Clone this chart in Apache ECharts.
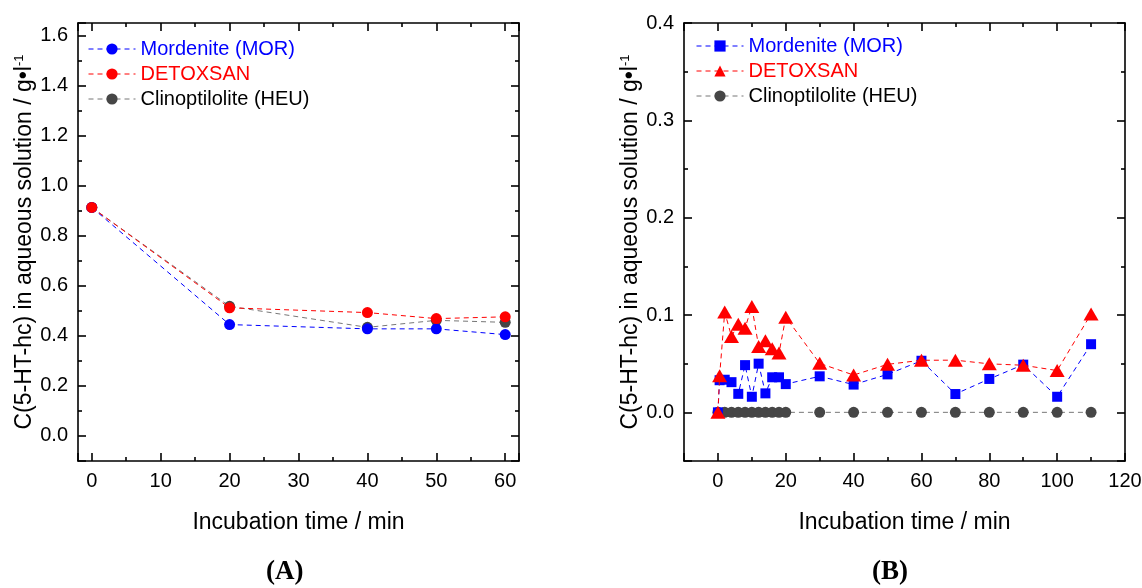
<!DOCTYPE html>
<html>
<head>
<meta charset="utf-8">
<script src="https://cdn.jsdelivr.net/npm/echarts@6.0.0/dist/echarts.min.js"></script>
<style>
html, body { margin: 0; padding: 0; background: #fff; }
#main { width: 1142px; height: 588px; }
</style>
</head>
<body>
<div id="main"></div>
<script>
// (A) 0-60 min
var timeA = [0, 20, 40, 50, 60];
var morA = [0.913, 0.445, 0.428, 0.428, 0.405];
var detoxA = [0.913, 0.512, 0.493, 0.469, 0.476];
var heuA = [0.913, 0.518, 0.434, 0.462, 0.454];

// (B) 0-110 min
var timeB = [0, 0.5, 2, 4, 6, 8, 10, 12, 14, 16, 18, 20, 30, 40, 50, 60, 70, 80, 90, 100, 110];
var morB = [0, 0.033, 0.0335, 0.031, 0.019, 0.0485, 0.016, 0.050, 0.0195, 0.036, 0.036, 0.029,
            0.037, 0.0285, 0.039, 0.053, 0.0188, 0.0343, 0.049, 0.016, 0.070];
var detoxB = [0, 0.0376, 0.103, 0.078, 0.0906, 0.0865, 0.1087, 0.0677, 0.0735, 0.0653, 0.0609, 0.0978,
              0.0503, 0.0383, 0.0493, 0.0535, 0.0536, 0.0498, 0.0484, 0.0429, 0.1011];
var timeHeuB = [0, 2, 4, 6, 8, 10, 12, 14, 16, 18, 20, 30, 40, 50, 60, 70, 80, 90, 100, 110];
var heuB = [0, 0, 0, 0, 0, 0, 0, 0, 0, 0, 0, 0, 0, 0, 0, 0, 0, 0, 0, 0];

var namesA = ['Mordenite (MOR)', 'DETOXSAN', 'Clinoptilolite (HEU)'];
// trailing space keeps the two legends apart
var namesB = ['Mordenite (MOR) ', 'DETOXSAN ', 'Clinoptilolite (HEU) '];

var FONT = '"Liberation Sans", Arial, sans-serif';
var BLUE = '#0000ff', RED = '#ff0000', GREY = '#464646', GREY_LINE = '#777777';
var yTitle = 'C(5-HT-hc) in aqueous solution / g\u2022l{sup|-1}';

function pairs(xs, ys) {
    var out = [];
    for (var i = 0; i < xs.length; i++) {
        out.push([xs[i], ys[i]]);
    }
    return out;
}

function frameAxis(grid, pos, min, max, split, showMin, showMax, fmt, name, nameGap) {
    var main = (pos == 'bottom' || pos == 'left');
    var black = { color: '#000', width: 1.6 };
    return {
        type: 'value', gridIndex: grid, position: pos,
        min: min, max: max, splitNumber: split,
        axisLine: { show: true, onZero: false, lineStyle: black },
        axisTick: { show: true, inside: true, length: 8, lineStyle: black },
        minorTick: { show: true, splitNumber: 2, length: 4, lineStyle: black },
        splitLine: { show: false },
        minorSplitLine: { show: false },
        axisLabel: {
            show: main, showMinLabel: showMin, showMaxLabel: showMax,
            margin: 10, color: '#000', fontSize: 20, fontFamily: FONT, formatter: fmt
        },
        name: main ? name : '',
        nameLocation: 'middle',
        nameGap: nameGap,
        nameTextStyle: {
            color: '#000', fontSize: 23, fontFamily: FONT,
            rich: { sup: { fontSize: 13, fontFamily: FONT, color: '#000', verticalAlign: 'top' } }
        }
    };
}

function oneDec(v) { return v.toFixed(1); }
function intLabel(v) { return String(v); }

function lineSeries(name, idx, data, symbol, size, color, lineColor, z) {
    return {
        type: 'line', name: name, xAxisIndex: idx, yAxisIndex: idx, data: data,
        symbol: symbol, symbolSize: size, showAllSymbol: true,
        itemStyle: { color: color },
        lineStyle: { color: lineColor, width: 1, type: [5, 4] },
        emphasis: { disabled: true },
        z: z
    };
}

function legendOf(names, left, top) {
    return {
        orient: 'vertical', left: left, top: top, padding: 0,
        itemWidth: 47, itemHeight: 14, itemGap: 5, selectedMode: false,
        lineStyle: { width: 1 },
        itemStyle: { borderWidth: 0 },
        textStyle: { fontSize: 20, fontFamily: FONT },
        data: [
            { name: names[0], textStyle: { color: BLUE } },
            { name: names[1], textStyle: { color: RED } },
            { name: names[2], textStyle: { color: '#000' } }
        ]
    };
}

var chart = echarts.init(document.getElementById('main'), null, { renderer: 'canvas' });
var option = {
    animation: false,
    backgroundColor: '#fff',
    grid: [
        { left: 78, top: 23, width: 441, height: 438, outerBoundsMode: 'none' },
        { left: 684, top: 23, width: 441, height: 438, outerBoundsMode: 'none' }
    ],
    xAxis: [
        frameAxis(0, 'bottom', -2, 62, 6, false, false, intLabel, 'Incubation time / min', 50),
        frameAxis(0, 'top', -2, 62, 6, false, false, intLabel, '', 0),
        frameAxis(1, 'bottom', -10, 120, 7, false, true, intLabel, 'Incubation time / min', 50),
        frameAxis(1, 'top', -10, 120, 7, false, true, intLabel, '', 0)
    ],
    yAxis: [
        frameAxis(0, 'left', -0.1, 1.65, 8, false, false, oneDec, yTitle, 40),
        frameAxis(0, 'right', -0.1, 1.65, 8, false, false, oneDec, '', 0),
        frameAxis(1, 'left', -0.05, 0.4, 5, false, true, oneDec, yTitle, 41),
        frameAxis(1, 'right', -0.05, 0.4, 5, false, true, oneDec, '', 0)
    ],
    legend: [legendOf(namesA, 88, 39), legendOf(namesB, 696, 36)],
    graphic: [
        { type: 'text', left: 266, top: 559,
          style: { text: '(A)', fill: '#000', font: 'bold 27px "Liberation Serif", "Times New Roman", serif' } },
        { type: 'text', left: 872, top: 559,
          style: { text: '(B)', fill: '#000', font: 'bold 27px "Liberation Serif", "Times New Roman", serif' } }
    ],
    series: [
        lineSeries(namesA[2], 0, pairs(timeA, heuA), 'circle', 11, GREY, GREY_LINE, 2),
        lineSeries(namesA[0], 0, pairs(timeA, morA), 'circle', 11, BLUE, BLUE, 3),
        lineSeries(namesA[1], 0, pairs(timeA, detoxA), 'circle', 11, RED, RED, 4),
        lineSeries(namesB[2], 2, pairs(timeHeuB, heuB), 'circle', 11, GREY, GREY_LINE, 2),
        lineSeries(namesB[0], 2, pairs(timeB, morB), 'rect', 10, BLUE, BLUE, 3),
        lineSeries(namesB[1], 2, pairs(timeB, detoxB), 'triangle', [15, 13], RED, RED, 4)
    ]
};
chart.setOption(option);
</script>
</body>
</html>
